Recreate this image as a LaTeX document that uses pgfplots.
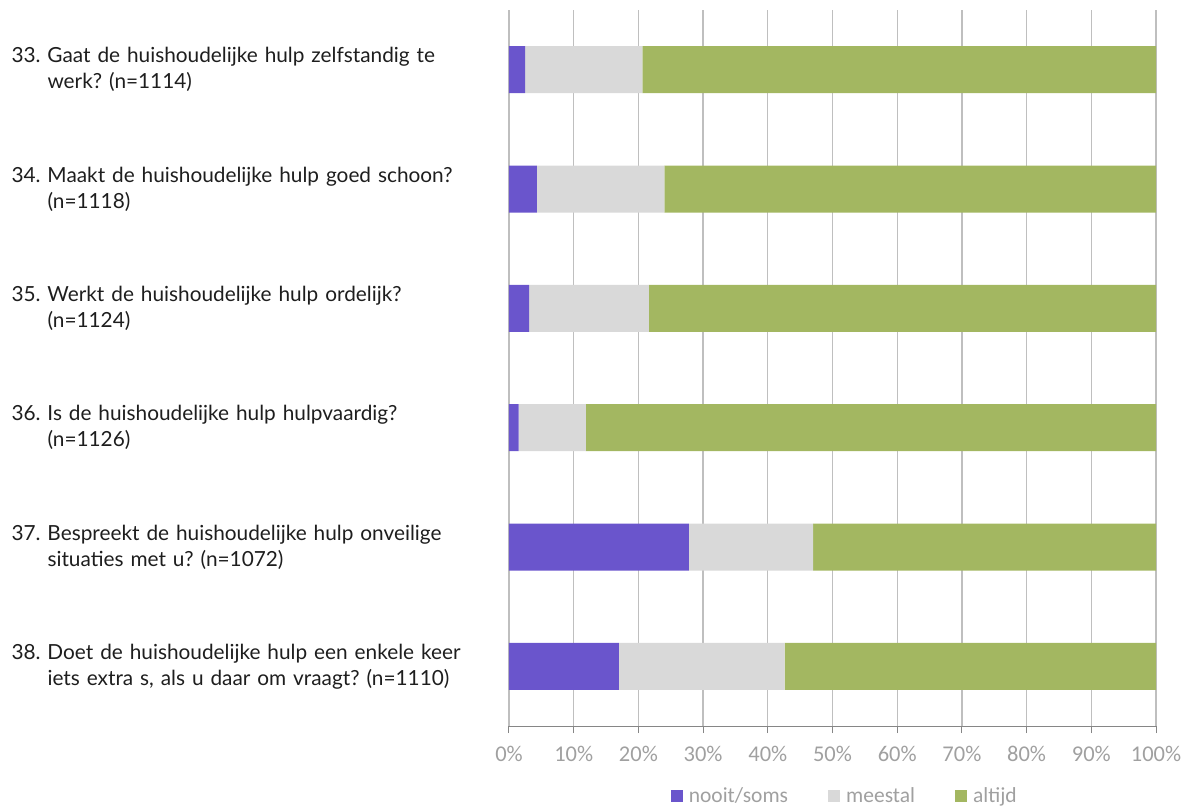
\documentclass[border=0pt]{standalone}
\usepackage{fontspec}
\setmainfont{Lato}
\newfontfamily\carlito{Carlito}
\usepackage{pgfplots}
\pgfplotsset{compat=1.18}
\frenchspacing
\definecolor{cpurple}{RGB}{106,85,204}
\definecolor{cgrey}{RGB}{217,217,217}
\definecolor{cgreen}{RGB}{163,183,97}
\definecolor{gridc}{RGB}{191,191,191}
\definecolor{axc}{RGB}{134,134,134}
\definecolor{tickc}{RGB}{160,160,160}
\definecolor{labc}{RGB}{30,30,30}
\begin{document}
\frenchspacing
\begin{tikzpicture}
\path[use as bounding box] (0,0) rectangle (1184pt,808pt);
\begin{axis}[
  at={(509pt,82pt)}, anchor=south west,
  scale only axis, width=647pt, height=716pt,
  xbar stacked, bar width=47pt,
  xmin=0, xmax=100, ymin=-0.5, ymax=5.5, y dir=reverse,
  xtick={0,10,...,100},
  xticklabel={\pgfmathprintnumber{\tick}\%},
  xticklabel style={font=\carlito\fontsize{22.5}{26}\selectfont, text=tickc, yshift=-10pt},
  /pgf/number format/assume math mode=true,
  ytick={0,...,5},
  yticklabels={
    {33. Gaat de huishoudelijke hulp zelfstandig te\\\hspace*{36pt}werk? (n=1114)},
    {34. Maakt de huishoudelijke hulp goed schoon?\\\hspace*{36pt}(n=1118)},
    {35. Werkt de huishoudelijke hulp ordelijk?\\\hspace*{36pt}(n=1124)},
    {36. Is de huishoudelijke hulp hulpvaardig?\\\hspace*{36pt}(n=1126)},
    {37. Bespreekt de huishoudelijke hulp onveilige\\\hspace*{36pt}situaties met u? (n=1072)},
    {38. Doet de huishoudelijke hulp een enkele keer\\\hspace*{36pt}iets extra s, als u daar om vraagt? (n=1110)}},
  yticklabel style={anchor=west, xshift=-501pt, align=left, text width=495pt,
    font=\frenchspacing\fontsize{20.8}{26}\selectfont, text=labc},
  axis x line*=bottom, axis y line*=left,
  x axis line style={draw=axc, line width=1pt},
  y axis line style={draw=none},
  ytick style={draw=none},
  xtick style={draw=axc, line width=1pt},
  xtick align=outside, major tick length=7pt,
  xmajorgrids, major grid style={draw=gridc, line width=1.3pt},
  legend columns=3,
  legend style={at={(0.519,-0.0978)}, anchor=center, draw=none, fill=none,
    font=\carlito\fontsize{21.5}{24}\selectfont, text=tickc,
    /tikz/every odd column/.append style={column sep=4pt},
    /tikz/every even column/.append style={column sep=38pt},
    inner sep=0pt},
  legend image code/.code={\fill[#1] (0pt,-6pt) rectangle (12pt,6pt);},
  legend cell align=left,
]
\addplot[fill=cpurple, draw=none] coordinates {(2.5,0) (4.3,1) (3.1,2) (1.5,3) (27.8,4) (17.0,5)};
\addplot[fill=cgrey, draw=none] coordinates {(18.1,0) (19.7,1) (18.5,2) (10.4,3) (19.2,4) (25.6,5)};
\addplot[fill=cgreen, draw=none] coordinates {(79.4,0) (76.0,1) (78.4,2) (88.1,3) (53.0,4) (57.4,5)};
\legend{nooit/soms, meestal, altijd}
\end{axis}
\end{tikzpicture}
\end{document}
